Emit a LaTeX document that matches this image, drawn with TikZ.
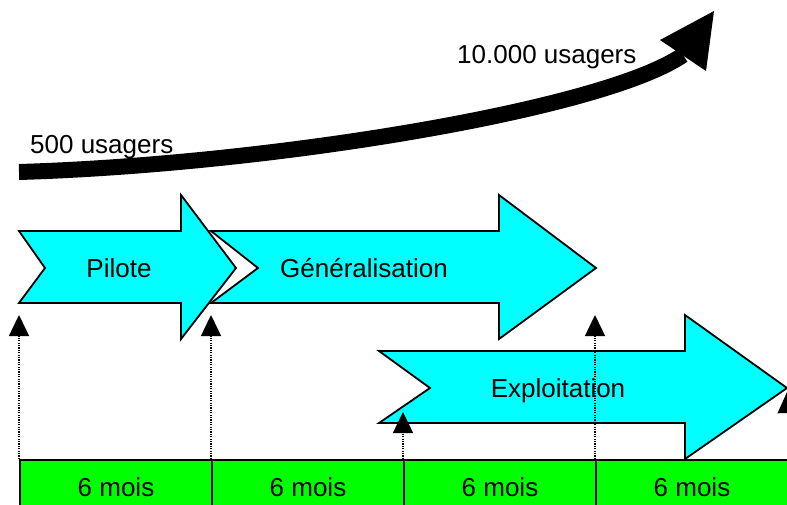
\documentclass[tikz,border=0pt]{standalone}
\usepackage{fontspec}
\setmainfont{Liberation Sans}
\usetikzlibrary{arrows.meta}
\definecolor{phasecyan}{RGB}{0,255,255}
\definecolor{moisgreen}{RGB}{0,255,0}

\begin{document}
\begin{tikzpicture}[x=1pt,y=-1pt,
    phase/.style={draw=black,line width=1.8pt,fill=phasecyan,line join=miter},
    lbl/.style={font=\fontsize{26}{30}\selectfont,inner sep=0pt},
    mois/.style={lbl,draw=black,line width=2pt,fill=moisgreen,minimum width=192pt,minimum height=54pt,anchor=north west},
    jalon/.style={line width=1.4pt,dash pattern=on 1.2pt off 1.2pt,-{Triangle[length=21pt,width=20pt]}}]
    \useasboundingbox (0,0) rectangle (787,504);
    \protect\coordinate (debut) at (19,172);
    \protect\coordinate (fin) at (683,55);
    \protect\draw[line width=16pt] (debut) .. controls (269,164.5) and (603,110) .. (fin);
    \protect\fill (660,40) -- (714,11) -- (706,71) -- cycle;
    \protect\node[lbl,anchor=base west] (u500) at (30,153) {500 usagers};
    \protect\node[lbl,anchor=base west] (u10000) at (457,63) {10.000 usagers};
    \protect\draw[phase] (211,231) -- (499,231) -- (499,195) -- (596,268) -- (499,339) -- (499,303) -- (211,303) -- (258,268) -- cycle;
    \protect\draw[phase] (19,231) -- (181,231) -- (181,195) -- (236,268) -- (181,339) -- (181,303) -- (19,303) -- (45,268) -- cycle;
    \protect\draw[phase] (379,351) -- (685,351) -- (685,315) -- (787,388) -- (685,459) -- (685,423) -- (379,423) -- (430,388) -- cycle;
    \protect\node[lbl,anchor=base] (pilote) at (119,277) {Pilote};
    \protect\node[lbl,anchor=base] (gen) at (364,277) {Généralisation};
    \protect\node[lbl,anchor=base] (exploit) at (558,397) {Exploitation};
    \protect\node[mois] (m1) at (19,459) {6 mois};
    \protect\node[mois] (m2) at (211,459) {6 mois};
    \protect\node[mois] (m3) at (403,459) {6 mois};
    \protect\node[mois] (m4) at (595,459) {6 mois};
    \protect\coordinate (j1) at (19,315);
    \protect\coordinate (j2) at (211,315);
    \protect\coordinate (j3) at (403,412);
    \protect\coordinate (j4) at (595,315);
    \protect\coordinate (j5) at (787,392);
    \protect\draw[jalon] (m1.north west) -- (j1);
    \protect\draw[jalon] (m2.north west) -- (j2);
    \protect\draw[jalon] (m3.north west) -- (j3);
    \protect\draw[jalon] (m4.north west) -- (j4);
    \protect\draw[jalon] (m4.north east) -- (j5);
  \end{tikzpicture}
\end{document}
